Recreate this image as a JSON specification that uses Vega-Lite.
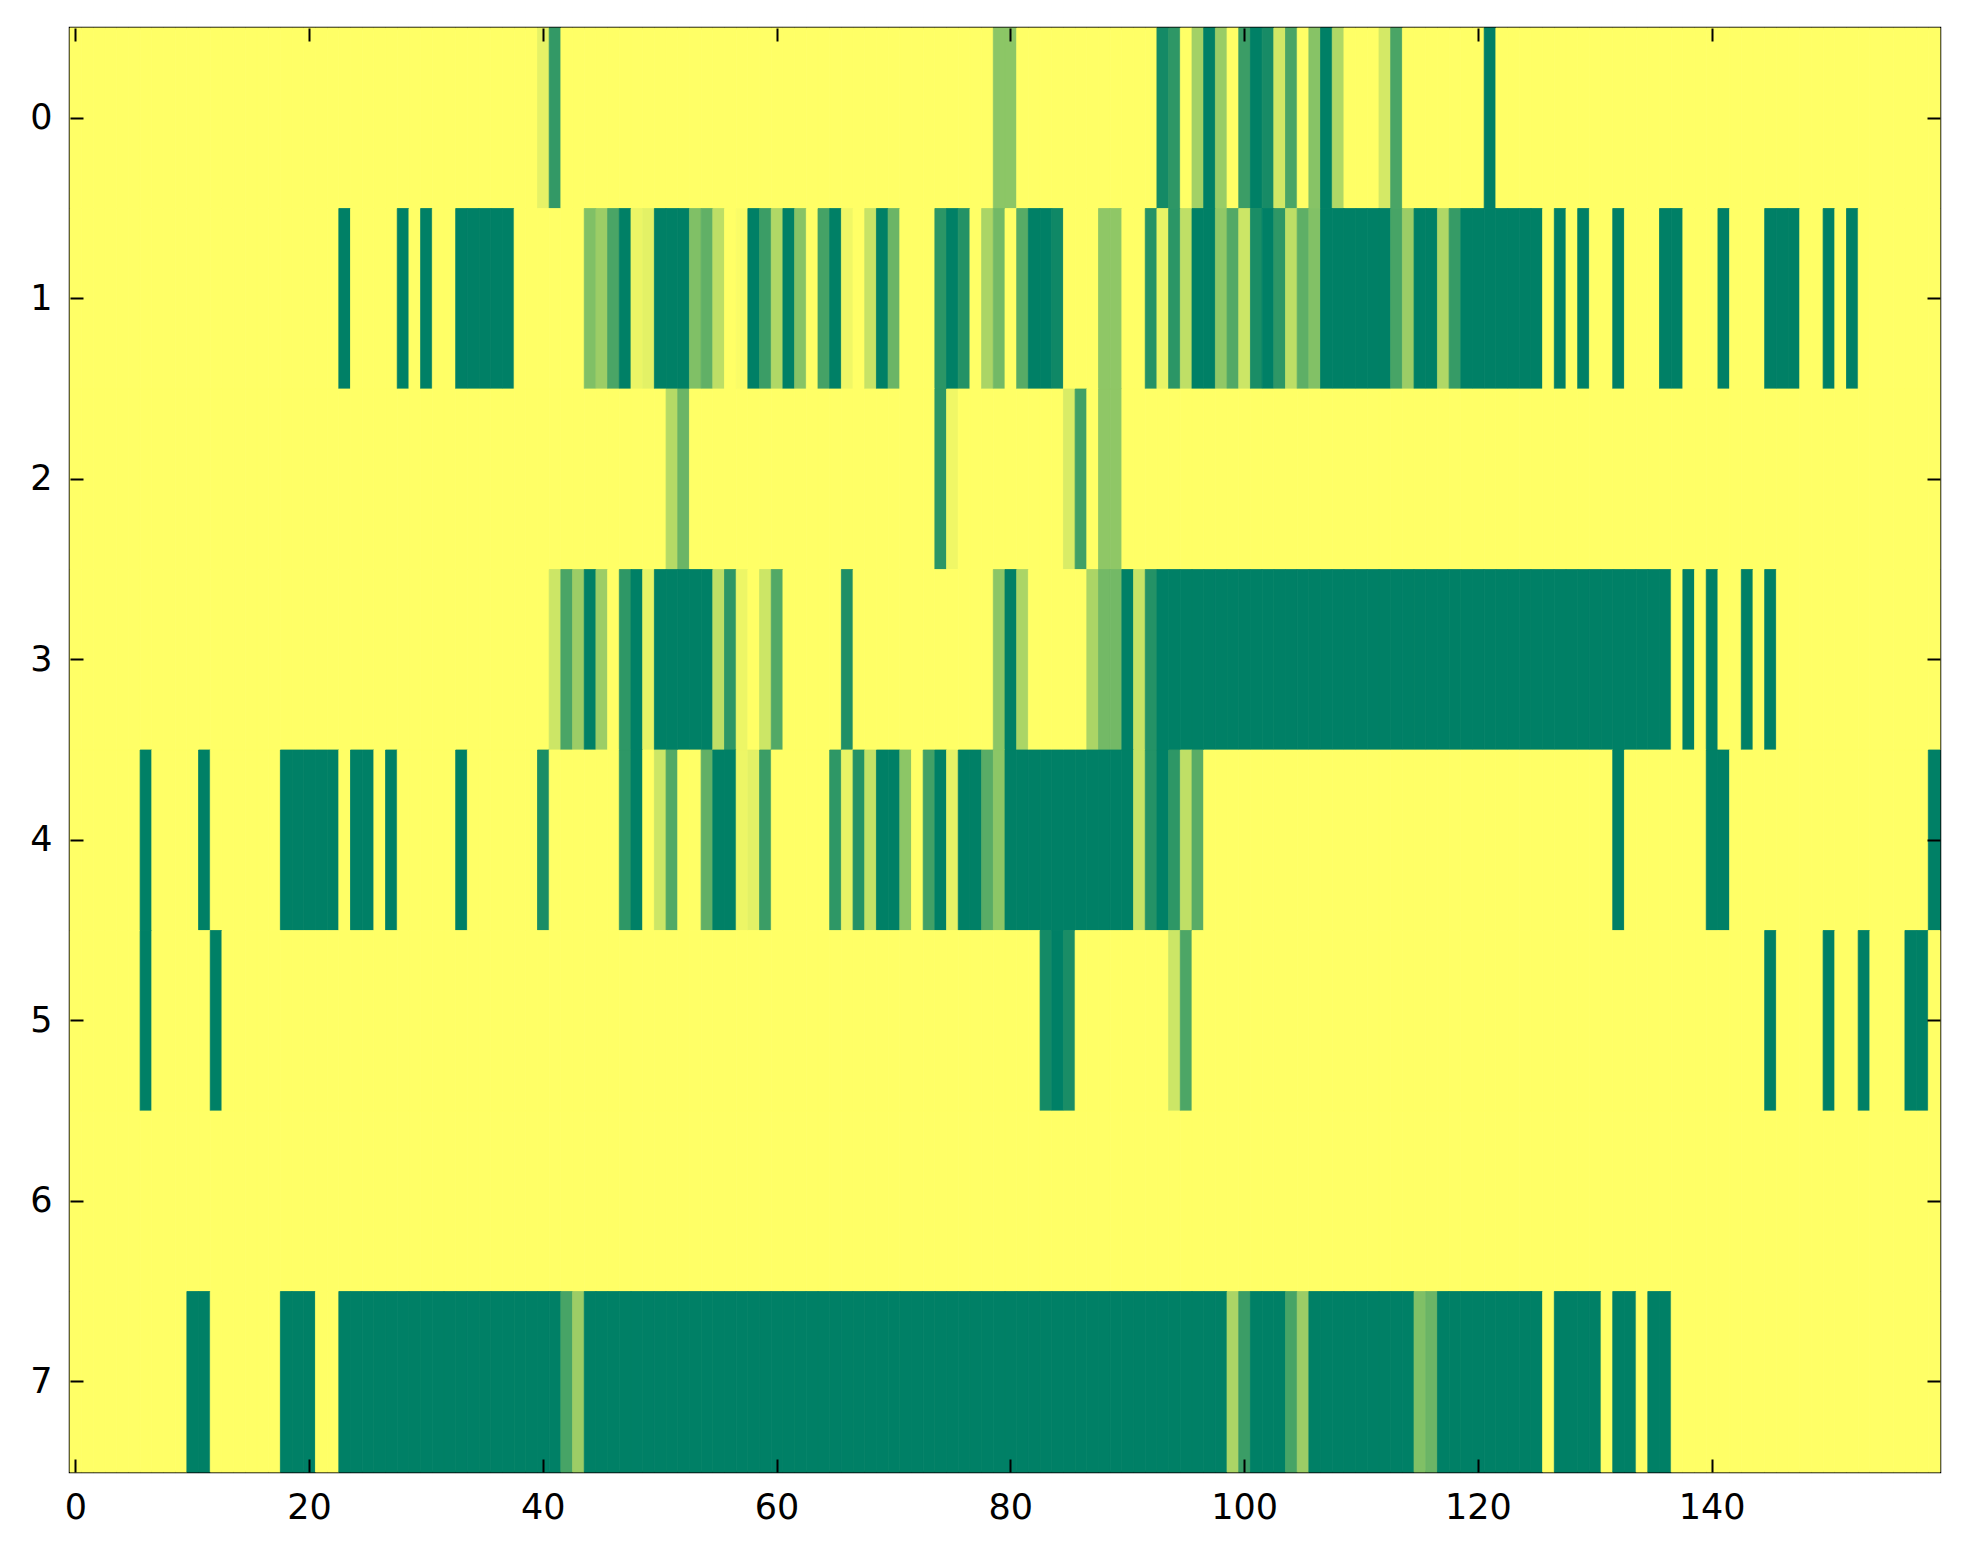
{
  "$schema": "https://vega.github.io/schema/vega-lite/v6.json",
  "width": 1870,
  "height": 1444,
  "autosize": "none",
  "padding": {"left": 70, "top": 28, "right": 23, "bottom": 92},
  "background": "white",
  "config": {
    "view": {"stroke": "black", "strokeWidth": 2.5},
    "axis": {
      "domain": false,
      "grid": false,
      "ticks": true,
      "tickColor": "black",
      "tickWidth": 2,
      "tickSize": -13,
      "labelFont": "DejaVu Sans",
      "labelFontSize": 35,
      "labelColor": "black",
      "labelPadding": 31,
      "title": null
    }
  },
  "data": {"values": [
{"r":0,"c":0,"v":0},{"r":0,"c":1,"v":0},{"r":0,"c":2,"v":0},{"r":0,"c":3,"v":0},{"r":0,"c":4,"v":0},{"r":0,"c":5,"v":0},{"r":0,"c":6,"v":0},{"r":0,"c":7,"v":0},{"r":0,"c":8,"v":0},{"r":0,"c":9,"v":0},
{"r":0,"c":10,"v":0},{"r":0,"c":11,"v":0},{"r":0,"c":12,"v":0},{"r":0,"c":13,"v":0},{"r":0,"c":14,"v":0},{"r":0,"c":15,"v":0},{"r":0,"c":16,"v":0},{"r":0,"c":17,"v":0},{"r":0,"c":18,"v":0},{"r":0,"c":19,"v":0},
{"r":0,"c":20,"v":0},{"r":0,"c":21,"v":0},{"r":0,"c":22,"v":0},{"r":0,"c":23,"v":0},{"r":0,"c":24,"v":0},{"r":0,"c":25,"v":0},{"r":0,"c":26,"v":0},{"r":0,"c":27,"v":0},{"r":0,"c":28,"v":0},{"r":0,"c":29,"v":0},
{"r":0,"c":30,"v":0},{"r":0,"c":31,"v":0},{"r":0,"c":32,"v":0},{"r":0,"c":33,"v":0},{"r":0,"c":34,"v":0},{"r":0,"c":35,"v":0},{"r":0,"c":36,"v":0},{"r":0,"c":37,"v":0},{"r":0,"c":38,"v":0},{"r":0,"c":39,"v":0},
{"r":0,"c":40,"v":0.1},{"r":0,"c":41,"v":0.8},{"r":0,"c":42,"v":0},{"r":0,"c":43,"v":0},{"r":0,"c":44,"v":0},{"r":0,"c":45,"v":0},{"r":0,"c":46,"v":0},{"r":0,"c":47,"v":0},{"r":0,"c":48,"v":0},{"r":0,"c":49,"v":0},
{"r":0,"c":50,"v":0},{"r":0,"c":51,"v":0},{"r":0,"c":52,"v":0},{"r":0,"c":53,"v":0},{"r":0,"c":54,"v":0},{"r":0,"c":55,"v":0},{"r":0,"c":56,"v":0},{"r":0,"c":57,"v":0},{"r":0,"c":58,"v":0},{"r":0,"c":59,"v":0},
{"r":0,"c":60,"v":0},{"r":0,"c":61,"v":0},{"r":0,"c":62,"v":0},{"r":0,"c":63,"v":0},{"r":0,"c":64,"v":0},{"r":0,"c":65,"v":0},{"r":0,"c":66,"v":0},{"r":0,"c":67,"v":0},{"r":0,"c":68,"v":0},{"r":0,"c":69,"v":0},
{"r":0,"c":70,"v":0},{"r":0,"c":71,"v":0},{"r":0,"c":72,"v":0},{"r":0,"c":73,"v":0},{"r":0,"c":74,"v":0},{"r":0,"c":75,"v":0},{"r":0,"c":76,"v":0},{"r":0,"c":77,"v":0},{"r":0,"c":78,"v":0},{"r":0,"c":79,"v":0.45},
{"r":0,"c":80,"v":0.45},{"r":0,"c":81,"v":0},{"r":0,"c":82,"v":0},{"r":0,"c":83,"v":0},{"r":0,"c":84,"v":0},{"r":0,"c":85,"v":0},{"r":0,"c":86,"v":0},{"r":0,"c":87,"v":0},{"r":0,"c":88,"v":0},{"r":0,"c":89,"v":0},
{"r":0,"c":90,"v":0},{"r":0,"c":91,"v":0},{"r":0,"c":92,"v":0},{"r":0,"c":93,"v":0.92},{"r":0,"c":94,"v":0.82},{"r":0,"c":95,"v":0},{"r":0,"c":96,"v":0.36},{"r":0,"c":97,"v":1},{"r":0,"c":98,"v":0.4},{"r":0,"c":99,"v":0},
{"r":0,"c":100,"v":0.77},{"r":0,"c":101,"v":1},{"r":0,"c":102,"v":0.91},{"r":0,"c":103,"v":0.18},{"r":0,"c":104,"v":0.71},{"r":0,"c":105,"v":0},{"r":0,"c":106,"v":0.47},{"r":0,"c":107,"v":1},{"r":0,"c":108,"v":0.31},{"r":0,"c":109,"v":0},
{"r":0,"c":110,"v":0},{"r":0,"c":111,"v":0},{"r":0,"c":112,"v":0.17},{"r":0,"c":113,"v":0.71},{"r":0,"c":114,"v":0},{"r":0,"c":115,"v":0},{"r":0,"c":116,"v":0},{"r":0,"c":117,"v":0},{"r":0,"c":118,"v":0},{"r":0,"c":119,"v":0},
{"r":0,"c":120,"v":0},{"r":0,"c":121,"v":1},{"r":0,"c":122,"v":0},{"r":0,"c":123,"v":0},{"r":0,"c":124,"v":0},{"r":0,"c":125,"v":0},{"r":0,"c":126,"v":0},{"r":0,"c":127,"v":0},{"r":0,"c":128,"v":0},{"r":0,"c":129,"v":0},
{"r":0,"c":130,"v":0},{"r":0,"c":131,"v":0},{"r":0,"c":132,"v":0},{"r":0,"c":133,"v":0},{"r":0,"c":134,"v":0},{"r":0,"c":135,"v":0},{"r":0,"c":136,"v":0},{"r":0,"c":137,"v":0},{"r":0,"c":138,"v":0},{"r":0,"c":139,"v":0},
{"r":0,"c":140,"v":0},{"r":0,"c":141,"v":0},{"r":0,"c":142,"v":0},{"r":0,"c":143,"v":0},{"r":0,"c":144,"v":0},{"r":0,"c":145,"v":0},{"r":0,"c":146,"v":0},{"r":0,"c":147,"v":0},{"r":0,"c":148,"v":0},{"r":0,"c":149,"v":0},
{"r":0,"c":150,"v":0},{"r":0,"c":151,"v":0},{"r":0,"c":152,"v":0},{"r":0,"c":153,"v":0},{"r":0,"c":154,"v":0},{"r":0,"c":155,"v":0},{"r":0,"c":156,"v":0},{"r":0,"c":157,"v":0},{"r":0,"c":158,"v":0},{"r":0,"c":159,"v":0},
{"r":1,"c":0,"v":0},{"r":1,"c":1,"v":0},{"r":1,"c":2,"v":0},{"r":1,"c":3,"v":0},{"r":1,"c":4,"v":0},{"r":1,"c":5,"v":0},{"r":1,"c":6,"v":0},{"r":1,"c":7,"v":0},{"r":1,"c":8,"v":0},{"r":1,"c":9,"v":0},
{"r":1,"c":10,"v":0},{"r":1,"c":11,"v":0},{"r":1,"c":12,"v":0},{"r":1,"c":13,"v":0},{"r":1,"c":14,"v":0},{"r":1,"c":15,"v":0},{"r":1,"c":16,"v":0},{"r":1,"c":17,"v":0},{"r":1,"c":18,"v":0},{"r":1,"c":19,"v":0},
{"r":1,"c":20,"v":0},{"r":1,"c":21,"v":0},{"r":1,"c":22,"v":0},{"r":1,"c":23,"v":1},{"r":1,"c":24,"v":0},{"r":1,"c":25,"v":0},{"r":1,"c":26,"v":0},{"r":1,"c":27,"v":0},{"r":1,"c":28,"v":1},{"r":1,"c":29,"v":0},
{"r":1,"c":30,"v":1},{"r":1,"c":31,"v":0},{"r":1,"c":32,"v":0},{"r":1,"c":33,"v":1},{"r":1,"c":34,"v":1},{"r":1,"c":35,"v":1},{"r":1,"c":36,"v":1},{"r":1,"c":37,"v":1},{"r":1,"c":38,"v":0},{"r":1,"c":39,"v":0},
{"r":1,"c":40,"v":0},{"r":1,"c":41,"v":0},{"r":1,"c":42,"v":0},{"r":1,"c":43,"v":0},{"r":1,"c":44,"v":0.5},{"r":1,"c":45,"v":0.39},{"r":1,"c":46,"v":0.71},{"r":1,"c":47,"v":1},{"r":1,"c":48,"v":0.08},{"r":1,"c":49,"v":0.11},
{"r":1,"c":50,"v":1},{"r":1,"c":51,"v":1},{"r":1,"c":52,"v":1},{"r":1,"c":53,"v":0.5},{"r":1,"c":54,"v":0.62},{"r":1,"c":55,"v":0.26},{"r":1,"c":56,"v":0},{"r":1,"c":57,"v":0.02},{"r":1,"c":58,"v":1},{"r":1,"c":59,"v":0.77},
{"r":1,"c":60,"v":0.31},{"r":1,"c":61,"v":1},{"r":1,"c":62,"v":0.47},{"r":1,"c":63,"v":0},{"r":1,"c":64,"v":0.73},{"r":1,"c":65,"v":1},{"r":1,"c":66,"v":0.06},{"r":1,"c":67,"v":0},{"r":1,"c":68,"v":0.22},{"r":1,"c":69,"v":1},
{"r":1,"c":70,"v":0.58},{"r":1,"c":71,"v":0},{"r":1,"c":72,"v":0},{"r":1,"c":73,"v":0},{"r":1,"c":74,"v":0.83},{"r":1,"c":75,"v":1},{"r":1,"c":76,"v":0.86},{"r":1,"c":77,"v":0},{"r":1,"c":78,"v":0.33},{"r":1,"c":79,"v":0.55},
{"r":1,"c":80,"v":0},{"r":1,"c":81,"v":0.66},{"r":1,"c":82,"v":1},{"r":1,"c":83,"v":1},{"r":1,"c":84,"v":0.94},{"r":1,"c":85,"v":0},{"r":1,"c":86,"v":0},{"r":1,"c":87,"v":0},{"r":1,"c":88,"v":0.44},{"r":1,"c":89,"v":0.44},
{"r":1,"c":90,"v":0},{"r":1,"c":91,"v":0},{"r":1,"c":92,"v":0.86},{"r":1,"c":93,"v":0.09},{"r":1,"c":94,"v":0.83},{"r":1,"c":95,"v":0.25},{"r":1,"c":96,"v":1},{"r":1,"c":97,"v":1},{"r":1,"c":98,"v":0.43},{"r":1,"c":99,"v":0.68},
{"r":1,"c":100,"v":0.2},{"r":1,"c":101,"v":0.9},{"r":1,"c":102,"v":1},{"r":1,"c":103,"v":0.82},{"r":1,"c":104,"v":0.26},{"r":1,"c":105,"v":0.63},{"r":1,"c":106,"v":0.49},{"r":1,"c":107,"v":1},{"r":1,"c":108,"v":1},{"r":1,"c":109,"v":1},
{"r":1,"c":110,"v":1},{"r":1,"c":111,"v":1},{"r":1,"c":112,"v":1},{"r":1,"c":113,"v":0.72},{"r":1,"c":114,"v":0.39},{"r":1,"c":115,"v":1},{"r":1,"c":116,"v":1},{"r":1,"c":117,"v":0.31},{"r":1,"c":118,"v":0.79},{"r":1,"c":119,"v":1},
{"r":1,"c":120,"v":1},{"r":1,"c":121,"v":1},{"r":1,"c":122,"v":1},{"r":1,"c":123,"v":1},{"r":1,"c":124,"v":1},{"r":1,"c":125,"v":1},{"r":1,"c":126,"v":0},{"r":1,"c":127,"v":1},{"r":1,"c":128,"v":0},{"r":1,"c":129,"v":1},
{"r":1,"c":130,"v":0},{"r":1,"c":131,"v":0},{"r":1,"c":132,"v":1},{"r":1,"c":133,"v":0},{"r":1,"c":134,"v":0},{"r":1,"c":135,"v":0},{"r":1,"c":136,"v":1},{"r":1,"c":137,"v":1},{"r":1,"c":138,"v":0},{"r":1,"c":139,"v":0},
{"r":1,"c":140,"v":0},{"r":1,"c":141,"v":1},{"r":1,"c":142,"v":0},{"r":1,"c":143,"v":0},{"r":1,"c":144,"v":0},{"r":1,"c":145,"v":1},{"r":1,"c":146,"v":1},{"r":1,"c":147,"v":1},{"r":1,"c":148,"v":0},{"r":1,"c":149,"v":0},
{"r":1,"c":150,"v":1},{"r":1,"c":151,"v":0},{"r":1,"c":152,"v":1},{"r":1,"c":153,"v":0},{"r":1,"c":154,"v":0},{"r":1,"c":155,"v":0},{"r":1,"c":156,"v":0},{"r":1,"c":157,"v":0},{"r":1,"c":158,"v":0},{"r":1,"c":159,"v":0},
{"r":2,"c":0,"v":0},{"r":2,"c":1,"v":0},{"r":2,"c":2,"v":0},{"r":2,"c":3,"v":0},{"r":2,"c":4,"v":0},{"r":2,"c":5,"v":0},{"r":2,"c":6,"v":0},{"r":2,"c":7,"v":0},{"r":2,"c":8,"v":0},{"r":2,"c":9,"v":0},
{"r":2,"c":10,"v":0},{"r":2,"c":11,"v":0},{"r":2,"c":12,"v":0},{"r":2,"c":13,"v":0},{"r":2,"c":14,"v":0},{"r":2,"c":15,"v":0},{"r":2,"c":16,"v":0},{"r":2,"c":17,"v":0},{"r":2,"c":18,"v":0},{"r":2,"c":19,"v":0},
{"r":2,"c":20,"v":0},{"r":2,"c":21,"v":0},{"r":2,"c":22,"v":0},{"r":2,"c":23,"v":0},{"r":2,"c":24,"v":0},{"r":2,"c":25,"v":0},{"r":2,"c":26,"v":0},{"r":2,"c":27,"v":0},{"r":2,"c":28,"v":0},{"r":2,"c":29,"v":0},
{"r":2,"c":30,"v":0},{"r":2,"c":31,"v":0},{"r":2,"c":32,"v":0},{"r":2,"c":33,"v":0},{"r":2,"c":34,"v":0},{"r":2,"c":35,"v":0},{"r":2,"c":36,"v":0},{"r":2,"c":37,"v":0},{"r":2,"c":38,"v":0},{"r":2,"c":39,"v":0},
{"r":2,"c":40,"v":0},{"r":2,"c":41,"v":0},{"r":2,"c":42,"v":0},{"r":2,"c":43,"v":0},{"r":2,"c":44,"v":0},{"r":2,"c":45,"v":0},{"r":2,"c":46,"v":0},{"r":2,"c":47,"v":0},{"r":2,"c":48,"v":0},{"r":2,"c":49,"v":0},
{"r":2,"c":50,"v":0},{"r":2,"c":51,"v":0.29},{"r":2,"c":52,"v":0.58},{"r":2,"c":53,"v":0},{"r":2,"c":54,"v":0},{"r":2,"c":55,"v":0},{"r":2,"c":56,"v":0},{"r":2,"c":57,"v":0},{"r":2,"c":58,"v":0},{"r":2,"c":59,"v":0},
{"r":2,"c":60,"v":0},{"r":2,"c":61,"v":0},{"r":2,"c":62,"v":0},{"r":2,"c":63,"v":0},{"r":2,"c":64,"v":0},{"r":2,"c":65,"v":0},{"r":2,"c":66,"v":0},{"r":2,"c":67,"v":0},{"r":2,"c":68,"v":0},{"r":2,"c":69,"v":0},
{"r":2,"c":70,"v":0},{"r":2,"c":71,"v":0},{"r":2,"c":72,"v":0},{"r":2,"c":73,"v":0},{"r":2,"c":74,"v":0.83},{"r":2,"c":75,"v":0.06},{"r":2,"c":76,"v":0},{"r":2,"c":77,"v":0},{"r":2,"c":78,"v":0},{"r":2,"c":79,"v":0},
{"r":2,"c":80,"v":0},{"r":2,"c":81,"v":0},{"r":2,"c":82,"v":0},{"r":2,"c":83,"v":0},{"r":2,"c":84,"v":0},{"r":2,"c":85,"v":0.15},{"r":2,"c":86,"v":0.75},{"r":2,"c":87,"v":0},{"r":2,"c":88,"v":0.44},{"r":2,"c":89,"v":0.44},
{"r":2,"c":90,"v":0},{"r":2,"c":91,"v":0},{"r":2,"c":92,"v":0},{"r":2,"c":93,"v":0},{"r":2,"c":94,"v":0},{"r":2,"c":95,"v":0},{"r":2,"c":96,"v":0},{"r":2,"c":97,"v":0},{"r":2,"c":98,"v":0},{"r":2,"c":99,"v":0},
{"r":2,"c":100,"v":0},{"r":2,"c":101,"v":0},{"r":2,"c":102,"v":0},{"r":2,"c":103,"v":0},{"r":2,"c":104,"v":0},{"r":2,"c":105,"v":0},{"r":2,"c":106,"v":0},{"r":2,"c":107,"v":0},{"r":2,"c":108,"v":0},{"r":2,"c":109,"v":0},
{"r":2,"c":110,"v":0},{"r":2,"c":111,"v":0},{"r":2,"c":112,"v":0},{"r":2,"c":113,"v":0},{"r":2,"c":114,"v":0},{"r":2,"c":115,"v":0},{"r":2,"c":116,"v":0},{"r":2,"c":117,"v":0},{"r":2,"c":118,"v":0},{"r":2,"c":119,"v":0},
{"r":2,"c":120,"v":0},{"r":2,"c":121,"v":0},{"r":2,"c":122,"v":0},{"r":2,"c":123,"v":0},{"r":2,"c":124,"v":0},{"r":2,"c":125,"v":0},{"r":2,"c":126,"v":0},{"r":2,"c":127,"v":0},{"r":2,"c":128,"v":0},{"r":2,"c":129,"v":0},
{"r":2,"c":130,"v":0},{"r":2,"c":131,"v":0},{"r":2,"c":132,"v":0},{"r":2,"c":133,"v":0},{"r":2,"c":134,"v":0},{"r":2,"c":135,"v":0},{"r":2,"c":136,"v":0},{"r":2,"c":137,"v":0},{"r":2,"c":138,"v":0},{"r":2,"c":139,"v":0},
{"r":2,"c":140,"v":0},{"r":2,"c":141,"v":0},{"r":2,"c":142,"v":0},{"r":2,"c":143,"v":0},{"r":2,"c":144,"v":0},{"r":2,"c":145,"v":0},{"r":2,"c":146,"v":0},{"r":2,"c":147,"v":0},{"r":2,"c":148,"v":0},{"r":2,"c":149,"v":0},
{"r":2,"c":150,"v":0},{"r":2,"c":151,"v":0},{"r":2,"c":152,"v":0},{"r":2,"c":153,"v":0},{"r":2,"c":154,"v":0},{"r":2,"c":155,"v":0},{"r":2,"c":156,"v":0},{"r":2,"c":157,"v":0},{"r":2,"c":158,"v":0},{"r":2,"c":159,"v":0},
{"r":3,"c":0,"v":0},{"r":3,"c":1,"v":0},{"r":3,"c":2,"v":0},{"r":3,"c":3,"v":0},{"r":3,"c":4,"v":0},{"r":3,"c":5,"v":0},{"r":3,"c":6,"v":0},{"r":3,"c":7,"v":0},{"r":3,"c":8,"v":0},{"r":3,"c":9,"v":0},
{"r":3,"c":10,"v":0},{"r":3,"c":11,"v":0},{"r":3,"c":12,"v":0},{"r":3,"c":13,"v":0},{"r":3,"c":14,"v":0},{"r":3,"c":15,"v":0},{"r":3,"c":16,"v":0},{"r":3,"c":17,"v":0},{"r":3,"c":18,"v":0},{"r":3,"c":19,"v":0},
{"r":3,"c":20,"v":0},{"r":3,"c":21,"v":0},{"r":3,"c":22,"v":0},{"r":3,"c":23,"v":0},{"r":3,"c":24,"v":0},{"r":3,"c":25,"v":0},{"r":3,"c":26,"v":0},{"r":3,"c":27,"v":0},{"r":3,"c":28,"v":0},{"r":3,"c":29,"v":0},
{"r":3,"c":30,"v":0},{"r":3,"c":31,"v":0},{"r":3,"c":32,"v":0},{"r":3,"c":33,"v":0},{"r":3,"c":34,"v":0},{"r":3,"c":35,"v":0},{"r":3,"c":36,"v":0},{"r":3,"c":37,"v":0},{"r":3,"c":38,"v":0},{"r":3,"c":39,"v":0},
{"r":3,"c":40,"v":0},{"r":3,"c":41,"v":0.2},{"r":3,"c":42,"v":0.71},{"r":3,"c":43,"v":0.39},{"r":3,"c":44,"v":1},{"r":3,"c":45,"v":0.39},{"r":3,"c":46,"v":0},{"r":3,"c":47,"v":0.82},{"r":3,"c":48,"v":1},{"r":3,"c":49,"v":0.09},
{"r":3,"c":50,"v":1},{"r":3,"c":51,"v":1},{"r":3,"c":52,"v":1},{"r":3,"c":53,"v":1},{"r":3,"c":54,"v":1},{"r":3,"c":55,"v":0.25},{"r":3,"c":56,"v":0.82},{"r":3,"c":57,"v":0.07},{"r":3,"c":58,"v":0},{"r":3,"c":59,"v":0.2},
{"r":3,"c":60,"v":0.68},{"r":3,"c":61,"v":0},{"r":3,"c":62,"v":0},{"r":3,"c":63,"v":0},{"r":3,"c":64,"v":0},{"r":3,"c":65,"v":0},{"r":3,"c":66,"v":0.88},{"r":3,"c":67,"v":0},{"r":3,"c":68,"v":0},{"r":3,"c":69,"v":0},
{"r":3,"c":70,"v":0},{"r":3,"c":71,"v":0},{"r":3,"c":72,"v":0},{"r":3,"c":73,"v":0},{"r":3,"c":74,"v":0},{"r":3,"c":75,"v":0},{"r":3,"c":76,"v":0},{"r":3,"c":77,"v":0},{"r":3,"c":78,"v":0},{"r":3,"c":79,"v":0.45},
{"r":3,"c":80,"v":1},{"r":3,"c":81,"v":0.33},{"r":3,"c":82,"v":0},{"r":3,"c":83,"v":0},{"r":3,"c":84,"v":0},{"r":3,"c":85,"v":0},{"r":3,"c":86,"v":0},{"r":3,"c":87,"v":0.33},{"r":3,"c":88,"v":0.55},{"r":3,"c":89,"v":0.55},
{"r":3,"c":90,"v":1},{"r":3,"c":91,"v":0.22},{"r":3,"c":92,"v":0.86},{"r":3,"c":93,"v":1},{"r":3,"c":94,"v":1},{"r":3,"c":95,"v":1},{"r":3,"c":96,"v":1},{"r":3,"c":97,"v":1},{"r":3,"c":98,"v":1},{"r":3,"c":99,"v":1},
{"r":3,"c":100,"v":1},{"r":3,"c":101,"v":1},{"r":3,"c":102,"v":1},{"r":3,"c":103,"v":1},{"r":3,"c":104,"v":1},{"r":3,"c":105,"v":1},{"r":3,"c":106,"v":1},{"r":3,"c":107,"v":1},{"r":3,"c":108,"v":1},{"r":3,"c":109,"v":1},
{"r":3,"c":110,"v":1},{"r":3,"c":111,"v":1},{"r":3,"c":112,"v":1},{"r":3,"c":113,"v":1},{"r":3,"c":114,"v":1},{"r":3,"c":115,"v":1},{"r":3,"c":116,"v":1},{"r":3,"c":117,"v":1},{"r":3,"c":118,"v":1},{"r":3,"c":119,"v":1},
{"r":3,"c":120,"v":1},{"r":3,"c":121,"v":1},{"r":3,"c":122,"v":1},{"r":3,"c":123,"v":1},{"r":3,"c":124,"v":1},{"r":3,"c":125,"v":1},{"r":3,"c":126,"v":1},{"r":3,"c":127,"v":1},{"r":3,"c":128,"v":1},{"r":3,"c":129,"v":1},
{"r":3,"c":130,"v":1},{"r":3,"c":131,"v":1},{"r":3,"c":132,"v":1},{"r":3,"c":133,"v":1},{"r":3,"c":134,"v":1},{"r":3,"c":135,"v":1},{"r":3,"c":136,"v":1},{"r":3,"c":137,"v":0},{"r":3,"c":138,"v":1},{"r":3,"c":139,"v":0},
{"r":3,"c":140,"v":1},{"r":3,"c":141,"v":0},{"r":3,"c":142,"v":0},{"r":3,"c":143,"v":1},{"r":3,"c":144,"v":0},{"r":3,"c":145,"v":1},{"r":3,"c":146,"v":0},{"r":3,"c":147,"v":0},{"r":3,"c":148,"v":0},{"r":3,"c":149,"v":0},
{"r":3,"c":150,"v":0},{"r":3,"c":151,"v":0},{"r":3,"c":152,"v":0},{"r":3,"c":153,"v":0},{"r":3,"c":154,"v":0},{"r":3,"c":155,"v":0},{"r":3,"c":156,"v":0},{"r":3,"c":157,"v":0},{"r":3,"c":158,"v":0},{"r":3,"c":159,"v":0},
{"r":4,"c":0,"v":0},{"r":4,"c":1,"v":0},{"r":4,"c":2,"v":0},{"r":4,"c":3,"v":0},{"r":4,"c":4,"v":0},{"r":4,"c":5,"v":0},{"r":4,"c":6,"v":1},{"r":4,"c":7,"v":0},{"r":4,"c":8,"v":0},{"r":4,"c":9,"v":0},
{"r":4,"c":10,"v":0},{"r":4,"c":11,"v":1},{"r":4,"c":12,"v":0},{"r":4,"c":13,"v":0},{"r":4,"c":14,"v":0},{"r":4,"c":15,"v":0},{"r":4,"c":16,"v":0},{"r":4,"c":17,"v":0},{"r":4,"c":18,"v":1},{"r":4,"c":19,"v":1},
{"r":4,"c":20,"v":1},{"r":4,"c":21,"v":1},{"r":4,"c":22,"v":1},{"r":4,"c":23,"v":0},{"r":4,"c":24,"v":1},{"r":4,"c":25,"v":1},{"r":4,"c":26,"v":0},{"r":4,"c":27,"v":1},{"r":4,"c":28,"v":0},{"r":4,"c":29,"v":0},
{"r":4,"c":30,"v":0},{"r":4,"c":31,"v":0},{"r":4,"c":32,"v":0},{"r":4,"c":33,"v":1},{"r":4,"c":34,"v":0},{"r":4,"c":35,"v":0},{"r":4,"c":36,"v":0},{"r":4,"c":37,"v":0},{"r":4,"c":38,"v":0},{"r":4,"c":39,"v":0},
{"r":4,"c":40,"v":0.9},{"r":4,"c":41,"v":0},{"r":4,"c":42,"v":0},{"r":4,"c":43,"v":0},{"r":4,"c":44,"v":0},{"r":4,"c":45,"v":0},{"r":4,"c":46,"v":0},{"r":4,"c":47,"v":0.82},{"r":4,"c":48,"v":1},{"r":4,"c":49,"v":0},
{"r":4,"c":50,"v":0.2},{"r":4,"c":51,"v":0.68},{"r":4,"c":52,"v":0},{"r":4,"c":53,"v":0},{"r":4,"c":54,"v":0.62},{"r":4,"c":55,"v":1},{"r":4,"c":56,"v":1},{"r":4,"c":57,"v":0.07},{"r":4,"c":58,"v":0.11},{"r":4,"c":59,"v":0.77},
{"r":4,"c":60,"v":0},{"r":4,"c":61,"v":0},{"r":4,"c":62,"v":0},{"r":4,"c":63,"v":0},{"r":4,"c":64,"v":0},{"r":4,"c":65,"v":0.82},{"r":4,"c":66,"v":0.09},{"r":4,"c":67,"v":0.86},{"r":4,"c":68,"v":0.23},{"r":4,"c":69,"v":1},
{"r":4,"c":70,"v":1},{"r":4,"c":71,"v":0.45},{"r":4,"c":72,"v":0},{"r":4,"c":73,"v":0.74},{"r":4,"c":74,"v":1},{"r":4,"c":75,"v":0.1},{"r":4,"c":76,"v":1},{"r":4,"c":77,"v":1},{"r":4,"c":78,"v":0.65},{"r":4,"c":79,"v":0.45},
{"r":4,"c":80,"v":1},{"r":4,"c":81,"v":1},{"r":4,"c":82,"v":1},{"r":4,"c":83,"v":1},{"r":4,"c":84,"v":1},{"r":4,"c":85,"v":1},{"r":4,"c":86,"v":1},{"r":4,"c":87,"v":1},{"r":4,"c":88,"v":1},{"r":4,"c":89,"v":1},
{"r":4,"c":90,"v":1},{"r":4,"c":91,"v":0.22},{"r":4,"c":92,"v":0.86},{"r":4,"c":93,"v":1},{"r":4,"c":94,"v":0.82},{"r":4,"c":95,"v":0.25},{"r":4,"c":96,"v":0.65},{"r":4,"c":97,"v":0},{"r":4,"c":98,"v":0},{"r":4,"c":99,"v":0},
{"r":4,"c":100,"v":0},{"r":4,"c":101,"v":0},{"r":4,"c":102,"v":0},{"r":4,"c":103,"v":0},{"r":4,"c":104,"v":0},{"r":4,"c":105,"v":0},{"r":4,"c":106,"v":0},{"r":4,"c":107,"v":0},{"r":4,"c":108,"v":0},{"r":4,"c":109,"v":0},
{"r":4,"c":110,"v":0},{"r":4,"c":111,"v":0},{"r":4,"c":112,"v":0},{"r":4,"c":113,"v":0},{"r":4,"c":114,"v":0},{"r":4,"c":115,"v":0},{"r":4,"c":116,"v":0},{"r":4,"c":117,"v":0},{"r":4,"c":118,"v":0},{"r":4,"c":119,"v":0},
{"r":4,"c":120,"v":0},{"r":4,"c":121,"v":0},{"r":4,"c":122,"v":0},{"r":4,"c":123,"v":0},{"r":4,"c":124,"v":0},{"r":4,"c":125,"v":0},{"r":4,"c":126,"v":0},{"r":4,"c":127,"v":0},{"r":4,"c":128,"v":0},{"r":4,"c":129,"v":0},
{"r":4,"c":130,"v":0},{"r":4,"c":131,"v":0},{"r":4,"c":132,"v":1},{"r":4,"c":133,"v":0},{"r":4,"c":134,"v":0},{"r":4,"c":135,"v":0},{"r":4,"c":136,"v":0},{"r":4,"c":137,"v":0},{"r":4,"c":138,"v":0},{"r":4,"c":139,"v":0},
{"r":4,"c":140,"v":1},{"r":4,"c":141,"v":1},{"r":4,"c":142,"v":0},{"r":4,"c":143,"v":0},{"r":4,"c":144,"v":0},{"r":4,"c":145,"v":0},{"r":4,"c":146,"v":0},{"r":4,"c":147,"v":0},{"r":4,"c":148,"v":0},{"r":4,"c":149,"v":0},
{"r":4,"c":150,"v":0},{"r":4,"c":151,"v":0},{"r":4,"c":152,"v":0},{"r":4,"c":153,"v":0},{"r":4,"c":154,"v":0},{"r":4,"c":155,"v":0},{"r":4,"c":156,"v":0},{"r":4,"c":157,"v":0},{"r":4,"c":158,"v":0},{"r":4,"c":159,"v":1},
{"r":5,"c":0,"v":0},{"r":5,"c":1,"v":0},{"r":5,"c":2,"v":0},{"r":5,"c":3,"v":0},{"r":5,"c":4,"v":0},{"r":5,"c":5,"v":0},{"r":5,"c":6,"v":1},{"r":5,"c":7,"v":0},{"r":5,"c":8,"v":0},{"r":5,"c":9,"v":0},
{"r":5,"c":10,"v":0},{"r":5,"c":11,"v":0},{"r":5,"c":12,"v":1},{"r":5,"c":13,"v":0},{"r":5,"c":14,"v":0},{"r":5,"c":15,"v":0},{"r":5,"c":16,"v":0},{"r":5,"c":17,"v":0},{"r":5,"c":18,"v":0},{"r":5,"c":19,"v":0},
{"r":5,"c":20,"v":0},{"r":5,"c":21,"v":0},{"r":5,"c":22,"v":0},{"r":5,"c":23,"v":0},{"r":5,"c":24,"v":0},{"r":5,"c":25,"v":0},{"r":5,"c":26,"v":0},{"r":5,"c":27,"v":0},{"r":5,"c":28,"v":0},{"r":5,"c":29,"v":0},
{"r":5,"c":30,"v":0},{"r":5,"c":31,"v":0},{"r":5,"c":32,"v":0},{"r":5,"c":33,"v":0},{"r":5,"c":34,"v":0},{"r":5,"c":35,"v":0},{"r":5,"c":36,"v":0},{"r":5,"c":37,"v":0},{"r":5,"c":38,"v":0},{"r":5,"c":39,"v":0},
{"r":5,"c":40,"v":0},{"r":5,"c":41,"v":0},{"r":5,"c":42,"v":0},{"r":5,"c":43,"v":0},{"r":5,"c":44,"v":0},{"r":5,"c":45,"v":0},{"r":5,"c":46,"v":0},{"r":5,"c":47,"v":0},{"r":5,"c":48,"v":0},{"r":5,"c":49,"v":0},
{"r":5,"c":50,"v":0},{"r":5,"c":51,"v":0},{"r":5,"c":52,"v":0},{"r":5,"c":53,"v":0},{"r":5,"c":54,"v":0},{"r":5,"c":55,"v":0},{"r":5,"c":56,"v":0},{"r":5,"c":57,"v":0},{"r":5,"c":58,"v":0},{"r":5,"c":59,"v":0},
{"r":5,"c":60,"v":0},{"r":5,"c":61,"v":0},{"r":5,"c":62,"v":0},{"r":5,"c":63,"v":0},{"r":5,"c":64,"v":0},{"r":5,"c":65,"v":0},{"r":5,"c":66,"v":0},{"r":5,"c":67,"v":0},{"r":5,"c":68,"v":0},{"r":5,"c":69,"v":0},
{"r":5,"c":70,"v":0},{"r":5,"c":71,"v":0},{"r":5,"c":72,"v":0},{"r":5,"c":73,"v":0},{"r":5,"c":74,"v":0},{"r":5,"c":75,"v":0},{"r":5,"c":76,"v":0},{"r":5,"c":77,"v":0},{"r":5,"c":78,"v":0},{"r":5,"c":79,"v":0},
{"r":5,"c":80,"v":0},{"r":5,"c":81,"v":0},{"r":5,"c":82,"v":0},{"r":5,"c":83,"v":0.92},{"r":5,"c":84,"v":1},{"r":5,"c":85,"v":0.9},{"r":5,"c":86,"v":0},{"r":5,"c":87,"v":0},{"r":5,"c":88,"v":0},{"r":5,"c":89,"v":0},
{"r":5,"c":90,"v":0},{"r":5,"c":91,"v":0},{"r":5,"c":92,"v":0},{"r":5,"c":93,"v":0},{"r":5,"c":94,"v":0.2},{"r":5,"c":95,"v":0.7},{"r":5,"c":96,"v":0},{"r":5,"c":97,"v":0},{"r":5,"c":98,"v":0},{"r":5,"c":99,"v":0},
{"r":5,"c":100,"v":0},{"r":5,"c":101,"v":0},{"r":5,"c":102,"v":0},{"r":5,"c":103,"v":0},{"r":5,"c":104,"v":0},{"r":5,"c":105,"v":0},{"r":5,"c":106,"v":0},{"r":5,"c":107,"v":0},{"r":5,"c":108,"v":0},{"r":5,"c":109,"v":0},
{"r":5,"c":110,"v":0},{"r":5,"c":111,"v":0},{"r":5,"c":112,"v":0},{"r":5,"c":113,"v":0},{"r":5,"c":114,"v":0},{"r":5,"c":115,"v":0},{"r":5,"c":116,"v":0},{"r":5,"c":117,"v":0},{"r":5,"c":118,"v":0},{"r":5,"c":119,"v":0},
{"r":5,"c":120,"v":0},{"r":5,"c":121,"v":0},{"r":5,"c":122,"v":0},{"r":5,"c":123,"v":0},{"r":5,"c":124,"v":0},{"r":5,"c":125,"v":0},{"r":5,"c":126,"v":0},{"r":5,"c":127,"v":0},{"r":5,"c":128,"v":0},{"r":5,"c":129,"v":0},
{"r":5,"c":130,"v":0},{"r":5,"c":131,"v":0},{"r":5,"c":132,"v":0},{"r":5,"c":133,"v":0},{"r":5,"c":134,"v":0},{"r":5,"c":135,"v":0},{"r":5,"c":136,"v":0},{"r":5,"c":137,"v":0},{"r":5,"c":138,"v":0},{"r":5,"c":139,"v":0},
{"r":5,"c":140,"v":0},{"r":5,"c":141,"v":0},{"r":5,"c":142,"v":0},{"r":5,"c":143,"v":0},{"r":5,"c":144,"v":0},{"r":5,"c":145,"v":1},{"r":5,"c":146,"v":0},{"r":5,"c":147,"v":0},{"r":5,"c":148,"v":0},{"r":5,"c":149,"v":0},
{"r":5,"c":150,"v":1},{"r":5,"c":151,"v":0},{"r":5,"c":152,"v":0},{"r":5,"c":153,"v":1},{"r":5,"c":154,"v":0},{"r":5,"c":155,"v":0},{"r":5,"c":156,"v":0},{"r":5,"c":157,"v":1},{"r":5,"c":158,"v":1},{"r":5,"c":159,"v":0},
{"r":6,"c":0,"v":0},{"r":6,"c":1,"v":0},{"r":6,"c":2,"v":0},{"r":6,"c":3,"v":0},{"r":6,"c":4,"v":0},{"r":6,"c":5,"v":0},{"r":6,"c":6,"v":0},{"r":6,"c":7,"v":0},{"r":6,"c":8,"v":0},{"r":6,"c":9,"v":0},
{"r":6,"c":10,"v":0},{"r":6,"c":11,"v":0},{"r":6,"c":12,"v":0},{"r":6,"c":13,"v":0},{"r":6,"c":14,"v":0},{"r":6,"c":15,"v":0},{"r":6,"c":16,"v":0},{"r":6,"c":17,"v":0},{"r":6,"c":18,"v":0},{"r":6,"c":19,"v":0},
{"r":6,"c":20,"v":0},{"r":6,"c":21,"v":0},{"r":6,"c":22,"v":0},{"r":6,"c":23,"v":0},{"r":6,"c":24,"v":0},{"r":6,"c":25,"v":0},{"r":6,"c":26,"v":0},{"r":6,"c":27,"v":0},{"r":6,"c":28,"v":0},{"r":6,"c":29,"v":0},
{"r":6,"c":30,"v":0},{"r":6,"c":31,"v":0},{"r":6,"c":32,"v":0},{"r":6,"c":33,"v":0},{"r":6,"c":34,"v":0},{"r":6,"c":35,"v":0},{"r":6,"c":36,"v":0},{"r":6,"c":37,"v":0},{"r":6,"c":38,"v":0},{"r":6,"c":39,"v":0},
{"r":6,"c":40,"v":0},{"r":6,"c":41,"v":0},{"r":6,"c":42,"v":0},{"r":6,"c":43,"v":0},{"r":6,"c":44,"v":0},{"r":6,"c":45,"v":0},{"r":6,"c":46,"v":0},{"r":6,"c":47,"v":0},{"r":6,"c":48,"v":0},{"r":6,"c":49,"v":0},
{"r":6,"c":50,"v":0},{"r":6,"c":51,"v":0},{"r":6,"c":52,"v":0},{"r":6,"c":53,"v":0},{"r":6,"c":54,"v":0},{"r":6,"c":55,"v":0},{"r":6,"c":56,"v":0},{"r":6,"c":57,"v":0},{"r":6,"c":58,"v":0},{"r":6,"c":59,"v":0},
{"r":6,"c":60,"v":0},{"r":6,"c":61,"v":0},{"r":6,"c":62,"v":0},{"r":6,"c":63,"v":0},{"r":6,"c":64,"v":0},{"r":6,"c":65,"v":0},{"r":6,"c":66,"v":0},{"r":6,"c":67,"v":0},{"r":6,"c":68,"v":0},{"r":6,"c":69,"v":0},
{"r":6,"c":70,"v":0},{"r":6,"c":71,"v":0},{"r":6,"c":72,"v":0},{"r":6,"c":73,"v":0},{"r":6,"c":74,"v":0},{"r":6,"c":75,"v":0},{"r":6,"c":76,"v":0},{"r":6,"c":77,"v":0},{"r":6,"c":78,"v":0},{"r":6,"c":79,"v":0},
{"r":6,"c":80,"v":0},{"r":6,"c":81,"v":0},{"r":6,"c":82,"v":0},{"r":6,"c":83,"v":0},{"r":6,"c":84,"v":0},{"r":6,"c":85,"v":0},{"r":6,"c":86,"v":0},{"r":6,"c":87,"v":0},{"r":6,"c":88,"v":0},{"r":6,"c":89,"v":0},
{"r":6,"c":90,"v":0},{"r":6,"c":91,"v":0},{"r":6,"c":92,"v":0},{"r":6,"c":93,"v":0},{"r":6,"c":94,"v":0},{"r":6,"c":95,"v":0},{"r":6,"c":96,"v":0},{"r":6,"c":97,"v":0},{"r":6,"c":98,"v":0},{"r":6,"c":99,"v":0},
{"r":6,"c":100,"v":0},{"r":6,"c":101,"v":0},{"r":6,"c":102,"v":0},{"r":6,"c":103,"v":0},{"r":6,"c":104,"v":0},{"r":6,"c":105,"v":0},{"r":6,"c":106,"v":0},{"r":6,"c":107,"v":0},{"r":6,"c":108,"v":0},{"r":6,"c":109,"v":0},
{"r":6,"c":110,"v":0},{"r":6,"c":111,"v":0},{"r":6,"c":112,"v":0},{"r":6,"c":113,"v":0},{"r":6,"c":114,"v":0},{"r":6,"c":115,"v":0},{"r":6,"c":116,"v":0},{"r":6,"c":117,"v":0},{"r":6,"c":118,"v":0},{"r":6,"c":119,"v":0},
{"r":6,"c":120,"v":0},{"r":6,"c":121,"v":0},{"r":6,"c":122,"v":0},{"r":6,"c":123,"v":0},{"r":6,"c":124,"v":0},{"r":6,"c":125,"v":0},{"r":6,"c":126,"v":0},{"r":6,"c":127,"v":0},{"r":6,"c":128,"v":0},{"r":6,"c":129,"v":0},
{"r":6,"c":130,"v":0},{"r":6,"c":131,"v":0},{"r":6,"c":132,"v":0},{"r":6,"c":133,"v":0},{"r":6,"c":134,"v":0},{"r":6,"c":135,"v":0},{"r":6,"c":136,"v":0},{"r":6,"c":137,"v":0},{"r":6,"c":138,"v":0},{"r":6,"c":139,"v":0},
{"r":6,"c":140,"v":0},{"r":6,"c":141,"v":0},{"r":6,"c":142,"v":0},{"r":6,"c":143,"v":0},{"r":6,"c":144,"v":0},{"r":6,"c":145,"v":0},{"r":6,"c":146,"v":0},{"r":6,"c":147,"v":0},{"r":6,"c":148,"v":0},{"r":6,"c":149,"v":0},
{"r":6,"c":150,"v":0},{"r":6,"c":151,"v":0},{"r":6,"c":152,"v":0},{"r":6,"c":153,"v":0},{"r":6,"c":154,"v":0},{"r":6,"c":155,"v":0},{"r":6,"c":156,"v":0},{"r":6,"c":157,"v":0},{"r":6,"c":158,"v":0},{"r":6,"c":159,"v":0},
{"r":7,"c":0,"v":0},{"r":7,"c":1,"v":0},{"r":7,"c":2,"v":0},{"r":7,"c":3,"v":0},{"r":7,"c":4,"v":0},{"r":7,"c":5,"v":0},{"r":7,"c":6,"v":0},{"r":7,"c":7,"v":0},{"r":7,"c":8,"v":0},{"r":7,"c":9,"v":0},
{"r":7,"c":10,"v":1},{"r":7,"c":11,"v":1},{"r":7,"c":12,"v":0},{"r":7,"c":13,"v":0},{"r":7,"c":14,"v":0},{"r":7,"c":15,"v":0},{"r":7,"c":16,"v":0},{"r":7,"c":17,"v":0},{"r":7,"c":18,"v":1},{"r":7,"c":19,"v":1},
{"r":7,"c":20,"v":1},{"r":7,"c":21,"v":0},{"r":7,"c":22,"v":0},{"r":7,"c":23,"v":1},{"r":7,"c":24,"v":1},{"r":7,"c":25,"v":1},{"r":7,"c":26,"v":1},{"r":7,"c":27,"v":1},{"r":7,"c":28,"v":1},{"r":7,"c":29,"v":1},
{"r":7,"c":30,"v":1},{"r":7,"c":31,"v":1},{"r":7,"c":32,"v":1},{"r":7,"c":33,"v":1},{"r":7,"c":34,"v":1},{"r":7,"c":35,"v":1},{"r":7,"c":36,"v":1},{"r":7,"c":37,"v":1},{"r":7,"c":38,"v":1},{"r":7,"c":39,"v":1},
{"r":7,"c":40,"v":1},{"r":7,"c":41,"v":1},{"r":7,"c":42,"v":0.72},{"r":7,"c":43,"v":0.39},{"r":7,"c":44,"v":1},{"r":7,"c":45,"v":1},{"r":7,"c":46,"v":1},{"r":7,"c":47,"v":1},{"r":7,"c":48,"v":1},{"r":7,"c":49,"v":1},
{"r":7,"c":50,"v":1},{"r":7,"c":51,"v":1},{"r":7,"c":52,"v":1},{"r":7,"c":53,"v":1},{"r":7,"c":54,"v":1},{"r":7,"c":55,"v":1},{"r":7,"c":56,"v":1},{"r":7,"c":57,"v":1},{"r":7,"c":58,"v":1},{"r":7,"c":59,"v":1},
{"r":7,"c":60,"v":1},{"r":7,"c":61,"v":1},{"r":7,"c":62,"v":1},{"r":7,"c":63,"v":1},{"r":7,"c":64,"v":1},{"r":7,"c":65,"v":1},{"r":7,"c":66,"v":1},{"r":7,"c":67,"v":1},{"r":7,"c":68,"v":1},{"r":7,"c":69,"v":1},
{"r":7,"c":70,"v":1},{"r":7,"c":71,"v":1},{"r":7,"c":72,"v":1},{"r":7,"c":73,"v":1},{"r":7,"c":74,"v":1},{"r":7,"c":75,"v":1},{"r":7,"c":76,"v":1},{"r":7,"c":77,"v":1},{"r":7,"c":78,"v":1},{"r":7,"c":79,"v":1},
{"r":7,"c":80,"v":1},{"r":7,"c":81,"v":1},{"r":7,"c":82,"v":1},{"r":7,"c":83,"v":1},{"r":7,"c":84,"v":1},{"r":7,"c":85,"v":1},{"r":7,"c":86,"v":1},{"r":7,"c":87,"v":1},{"r":7,"c":88,"v":1},{"r":7,"c":89,"v":1},
{"r":7,"c":90,"v":1},{"r":7,"c":91,"v":1},{"r":7,"c":92,"v":1},{"r":7,"c":93,"v":1},{"r":7,"c":94,"v":1},{"r":7,"c":95,"v":1},{"r":7,"c":96,"v":1},{"r":7,"c":97,"v":1},{"r":7,"c":98,"v":1},{"r":7,"c":99,"v":0.33},
{"r":7,"c":100,"v":0.77},{"r":7,"c":101,"v":1},{"r":7,"c":102,"v":1},{"r":7,"c":103,"v":1},{"r":7,"c":104,"v":0.72},{"r":7,"c":105,"v":0.39},{"r":7,"c":106,"v":1},{"r":7,"c":107,"v":1},{"r":7,"c":108,"v":1},{"r":7,"c":109,"v":1},
{"r":7,"c":110,"v":1},{"r":7,"c":111,"v":1},{"r":7,"c":112,"v":1},{"r":7,"c":113,"v":1},{"r":7,"c":114,"v":1},{"r":7,"c":115,"v":0.5},{"r":7,"c":116,"v":0.58},{"r":7,"c":117,"v":1},{"r":7,"c":118,"v":1},{"r":7,"c":119,"v":1},
{"r":7,"c":120,"v":1},{"r":7,"c":121,"v":1},{"r":7,"c":122,"v":1},{"r":7,"c":123,"v":1},{"r":7,"c":124,"v":1},{"r":7,"c":125,"v":1},{"r":7,"c":126,"v":0},{"r":7,"c":127,"v":1},{"r":7,"c":128,"v":1},{"r":7,"c":129,"v":1},
{"r":7,"c":130,"v":1},{"r":7,"c":131,"v":0},{"r":7,"c":132,"v":1},{"r":7,"c":133,"v":1},{"r":7,"c":134,"v":0},{"r":7,"c":135,"v":1},{"r":7,"c":136,"v":1},{"r":7,"c":137,"v":0},{"r":7,"c":138,"v":0},{"r":7,"c":139,"v":0},
{"r":7,"c":140,"v":0},{"r":7,"c":141,"v":0},{"r":7,"c":142,"v":0},{"r":7,"c":143,"v":0},{"r":7,"c":144,"v":0},{"r":7,"c":145,"v":0},{"r":7,"c":146,"v":0},{"r":7,"c":147,"v":0},{"r":7,"c":148,"v":0},{"r":7,"c":149,"v":0},
{"r":7,"c":150,"v":0},{"r":7,"c":151,"v":0},{"r":7,"c":152,"v":0},{"r":7,"c":153,"v":0},{"r":7,"c":154,"v":0},{"r":7,"c":155,"v":0},{"r":7,"c":156,"v":0},{"r":7,"c":157,"v":0},{"r":7,"c":158,"v":0},{"r":7,"c":159,"v":0}
  ]},
  "layer": [
    {
      "mark": {"type": "rect", "strokeWidth": 0.8},
      "encoding": {
        "x": {
          "field": "c", "type": "ordinal",
          "scale": {"paddingInner": 0, "paddingOuter": 0},
          "axis": {"orient": "bottom", "values": [0, 20, 40, 60, 80, 100, 120, 140], "labelAngle": 0}
        },
        "y": {
          "field": "r", "type": "ordinal",
          "scale": {"paddingInner": 0, "paddingOuter": 0},
          "axis": {"orient": "left"}
        },
        "color": {
          "field": "v", "type": "quantitative",
          "scale": {"domain": [0, 1], "range": ["#ffff66", "#008066"], "interpolate": "rgb"},
          "legend": null
        },
        "stroke": {
          "field": "v", "type": "quantitative",
          "scale": {"domain": [0, 1], "range": ["#ffff66", "#008066"], "interpolate": "rgb"},
          "legend": null
        }
      }
    },
    {
      "mark": {"type": "rect", "opacity": 0},
      "encoding": {
        "x": {
          "field": "c", "type": "ordinal",
          "axis": {"orient": "top", "values": [0, 20, 40, 60, 80, 100, 120, 140], "labels": false}
        },
        "y": {
          "field": "r", "type": "ordinal",
          "axis": {"orient": "right", "labels": false}
        }
      }
    }
  ],
  "resolve": {"axis": {"x": "independent", "y": "independent"}}
}
